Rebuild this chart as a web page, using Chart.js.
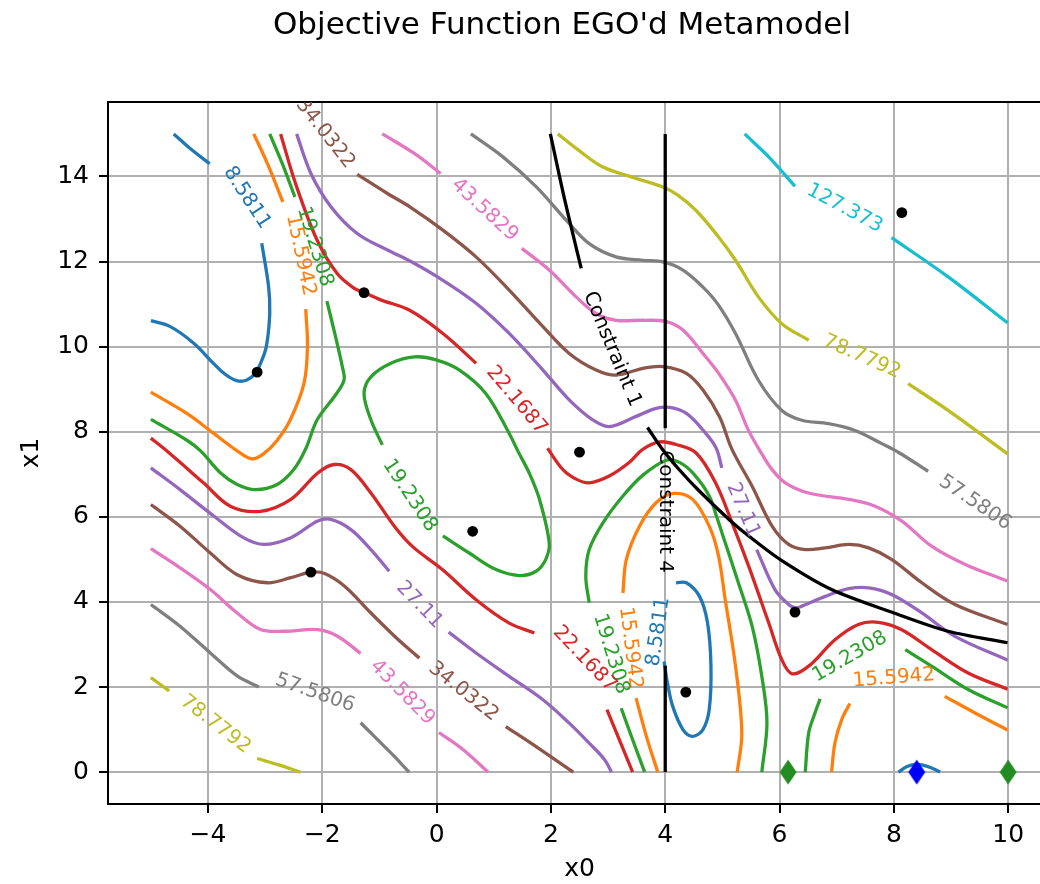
<!DOCTYPE html>
<html>
<head>
<meta charset="utf-8">
<title>Objective Function EGO'd Metamodel</title>
<script src="https://cdn.jsdelivr.net/npm/chart.js@4.4.1/dist/chart.umd.min.js"></script>
<style>
  html, body { margin: 0; padding: 0; overflow: hidden; background: #fff; }
  #wrap { width: 1060px; height: 884px; }
</style>
</head>
<body>
<div id="wrap"><canvas id="metamodel" width="1060" height="884"></canvas></div>
<script>
const xTicks = [-4, -2, 0, 2, 4, 6, 8, 10];
const yTicks = [0, 2, 4, 6, 8, 10, 12, 14];

const levels = [8.5811, 15.5942, 19.2308, 22.1687, 27.11, 34.0322, 43.5829, 57.5806, 78.7792, 127.373];

// each level: list of line pieces, each piece a run of [x0, x1] points
const iso8_5811 = [
  [[-4.6, 15.0], [-4.28, 14.62], [-3.97, 14.3]],
  [[-3.06, 12.43], [-2.94, 11.41], [-2.92, 10.78], [-2.98, 10.0], [-3.08, 9.61], [-3.18, 9.36], [-3.33, 9.21], [-3.5, 9.2], [-3.7, 9.35], [-3.9, 9.6], [-4.25, 10.08], [-4.66, 10.47], [-5.0, 10.61]],
  [[4.19, 4.45], [4.37, 4.45], [4.6, 4.13], [4.74, 3.51], [4.8, 2.49], [4.77, 1.47], [4.66, 1.0], [4.48, 0.84], [4.31, 1.0], [4.13, 1.55], [4.04, 2.09], [3.98, 2.6]],
  [[8.08, 0.0], [8.23, 0.13], [8.4, 0.18], [8.6, 0.13], [8.81, 0.0]]
];
const iso15_5942 = [
  [[-3.2, 15.0], [-2.96, 14.3], [-2.69, 13.4]],
  [[-2.29, 10.88], [-2.26, 10.0], [-2.32, 9.14], [-2.56, 8.28], [-2.8, 7.78], [-3.02, 7.49], [-3.23, 7.36], [-3.49, 7.55], [-3.9, 7.96], [-4.37, 8.43], [-5.0, 8.93]],
  [[3.87, 0.0], [3.67, 0.84], [3.49, 1.74]],
  [[3.26, 4.21], [3.32, 5.0], [3.55, 5.78], [3.84, 6.33], [4.15, 6.55], [4.48, 6.41], [4.77, 5.78], [4.93, 5.1], [5.05, 4.05], [5.23, 2.49], [5.34, 0.92], [5.26, 0.0]],
  [[6.91, 0.0], [6.97, 0.69], [7.09, 1.24], [7.23, 1.61]],
  [[8.89, 1.78], [9.42, 1.39], [9.99, 0.99]]
];
const iso19_2308 = [
  [[-2.92, 15.0], [-2.7, 14.3], [-2.48, 13.52]],
  [[-1.92, 11.07], [-1.78, 10.3], [-1.65, 9.53], [-1.62, 9.22], [-1.76, 8.88], [-2.09, 8.28], [-2.29, 7.6], [-2.5, 7.11], [-2.79, 6.76], [-3.17, 6.64], [-3.49, 6.76], [-3.78, 7.03], [-4.13, 7.55], [-4.37, 7.8], [-5.0, 8.29]],
  [[0.11, 5.55], [0.57, 5.15], [1.04, 4.76], [1.45, 4.62], [1.74, 4.72], [1.91, 5.0], [1.97, 5.39], [1.8, 6.41], [1.62, 7.03], [1.42, 7.55], [1.27, 7.96], [0.86, 8.9], [0.4, 9.45], [-0.01, 9.69], [-0.39, 9.76], [-0.8, 9.61], [-1.15, 9.29], [-1.27, 8.9], [-1.15, 8.28], [-0.95, 7.69]],
  [[3.64, 0.0], [3.43, 0.76], [3.23, 1.5]],
  [[2.67, 3.98], [2.61, 4.6], [2.67, 5.23], [2.91, 5.86], [3.26, 6.49], [3.61, 6.98], [4.02, 7.33], [4.25, 7.28], [4.49, 7.02], [4.77, 6.49], [4.9, 6.0], [5.05, 5.39], [5.28, 4.45], [5.52, 3.43], [5.69, 2.25], [5.78, 1.16], [5.69, 0.0]],
  [[6.45, 0.0], [6.51, 0.92], [6.62, 1.39], [6.71, 1.72]],
  [[8.2, 2.88], [8.66, 2.49], [9.3, 1.94], [9.99, 1.51]]
];
const iso22_1687 = [
  [[-2.73, 15.0], [-2.47, 13.84], [-2.09, 12.5], [-1.74, 11.72], [-1.44, 11.37], [-1.27, 11.27], [-0.98, 11.1], [-0.48, 10.86], [0.11, 10.31], [0.69, 9.61]],
  [[1.94, 7.61], [2.21, 7.11], [2.45, 6.88], [2.67, 6.8], [3.02, 6.96], [3.38, 7.29], [3.6, 7.58], [3.9, 7.76], [4.19, 7.7], [4.54, 7.5], [4.88, 6.8], [5.17, 5.86], [5.46, 4.84], [5.81, 3.51], [6.04, 2.64], [6.22, 2.31], [6.51, 2.49], [6.97, 3.11], [7.38, 3.47], [7.73, 3.52], [8.13, 3.35], [8.66, 2.88], [9.3, 2.33], [9.99, 1.95]],
  [[-5.0, 7.85], [-4.75, 7.58], [-4.08, 6.8], [-3.61, 6.25], [-3.08, 6.13], [-2.55, 6.41], [-2.08, 7.03], [-1.79, 7.23], [-1.5, 7.11], [-1.15, 6.56], [-0.74, 5.78], [-0.42, 5.3], [0.1, 4.76], [0.69, 4.05], [1.27, 3.5], [1.71, 3.27]],
  [[2.98, 1.47], [3.2, 0.75], [3.43, 0.0]]
];
const iso27_11 = [
  [[-2.45, 15.0], [-2.2, 14.07], [-1.85, 13.29], [-1.39, 12.66], [-0.86, 12.27], [-0.45, 12.0], [0.11, 11.56], [0.69, 11.02], [1.27, 10.31], [1.86, 9.45], [2.32, 8.75], [2.73, 8.28], [3.02, 8.12], [3.49, 8.36], [3.84, 8.55], [4.08, 8.57], [4.37, 8.43], [4.66, 8.04], [4.89, 7.62], [4.99, 7.15]],
  [[5.6, 5.23], [5.92, 4.29], [6.16, 3.94], [6.28, 3.86], [6.39, 3.9], [6.8, 4.13], [7.21, 4.31], [7.56, 4.33], [7.97, 4.17], [8.49, 3.74], [9.07, 3.19], [9.99, 2.63]],
  [[-5.0, 7.15], [-4.49, 6.64], [-3.9, 6.02], [-3.38, 5.51], [-3.02, 5.35], [-2.55, 5.51], [-2.08, 5.9], [-1.85, 5.94], [-1.5, 5.7], [-1.15, 5.23], [-0.83, 4.72]],
  [[0.21, 3.29], [0.69, 2.8], [1.27, 2.25], [1.86, 1.7], [2.32, 1.15], [2.67, 0.68], [2.94, 0.29], [3.06, 0.0]]
];
const iso34_0322 = [
  [[-1.39, 14.05], [-0.86, 13.6], [-0.45, 13.27], [0.11, 12.74], [0.69, 12.11], [1.27, 11.33], [1.86, 10.47], [2.32, 9.84], [2.79, 9.45], [3.14, 9.33], [3.61, 9.49], [3.96, 9.53], [4.37, 9.37], [4.66, 8.98], [4.95, 8.35], [5.17, 7.58], [5.52, 6.72], [5.87, 5.78], [6.16, 5.35], [6.45, 5.23], [6.8, 5.27], [7.21, 5.35], [7.56, 5.27], [7.96, 5.0], [8.49, 4.45], [9.07, 3.94], [9.99, 3.47]],
  [[-5.0, 6.29], [-4.49, 5.78], [-3.96, 5.15], [-3.49, 4.64], [-2.96, 4.45], [-2.55, 4.57], [-2.2, 4.7], [-1.96, 4.67], [-1.61, 4.37], [-1.15, 3.74], [-0.74, 3.2], [-0.45, 2.85], [-0.3, 2.68]],
  [[1.21, 1.07], [1.74, 0.6], [2.39, 0.0]]
];
const iso43_5829 = [
  [[-0.95, 15.0], [-0.39, 14.54], [0.07, 14.07]],
  [[1.49, 12.31], [1.97, 11.8], [2.44, 11.17], [2.79, 10.78], [3.14, 10.62], [3.61, 10.62], [4.02, 10.59], [4.31, 10.39], [4.66, 9.84], [4.92, 9.4], [5.23, 8.74], [5.45, 8.05], [5.68, 7.5], [5.87, 7.11], [6.1, 6.8], [6.51, 6.56], [7.21, 6.41], [7.67, 6.25], [8.14, 5.9], [8.66, 5.31], [9.25, 4.88], [9.99, 4.49]],
  [[-5.0, 5.25], [-4.49, 4.8], [-3.96, 4.29], [-3.49, 3.74], [-3.08, 3.35], [-2.67, 3.31], [-2.08, 3.35], [-1.74, 3.2], [-1.33, 2.79]],
  [[0.04, 0.93], [0.46, 0.53], [0.9, 0.0]]
];
const iso57_5806 = [
  [[0.6, 15.0], [1.16, 14.46], [1.74, 13.76], [2.27, 12.97], [2.67, 12.42], [3.14, 12.11], [3.61, 12.03], [3.96, 11.99], [4.31, 11.8], [4.66, 11.4], [4.92, 11.0], [5.23, 10.31], [5.63, 9.21], [6.04, 8.5], [6.39, 8.27], [6.86, 8.19], [7.32, 8.03], [7.79, 7.72], [8.1, 7.5], [8.6, 7.07]],
  [[-5.0, 3.94], [-4.49, 3.43], [-3.96, 2.8], [-3.49, 2.26], [-3.11, 2.0]],
  [[-1.33, 1.16], [-0.8, 0.45], [-0.48, 0.0]]
];
const iso78_7792 = [
  [[2.12, 15.0], [2.5, 14.6], [2.91, 14.22], [3.5, 13.95], [3.96, 13.75], [4.22, 13.56], [4.54, 13.2], [4.92, 12.6], [5.23, 12.03], [5.63, 11.17], [6.04, 10.54], [6.51, 10.15]],
  [[8.25, 9.13], [8.95, 8.5], [9.99, 7.48]],
  [[-5.0, 2.22], [-4.68, 1.91]],
  [[-3.14, 0.32], [-2.79, 0.18], [-2.38, 0.0]]
];
const iso127_373 = [
  [[5.39, 15.0], [5.81, 14.46], [6.27, 13.77]],
  [[7.96, 12.56], [8.95, 11.64], [9.99, 10.56]]
];
const contours = [iso8_5811, iso15_5942, iso19_2308, iso22_1687, iso27_11,
                  iso34_0322, iso43_5829, iso57_5806, iso78_7792, iso127_373];

const constraint1 = [
  [[1.99, 15.0], [2.25, 13.4], [2.53, 11.84]],
  [[3.69, 8.1], [3.96, 7.57], [4.25, 7.1], [4.6, 6.6], [5.13, 5.92], [5.46, 5.55], [6.04, 4.97], [6.91, 4.29], [8.0, 3.74], [8.95, 3.31], [9.99, 3.04]]
];
const constraint4 = [
  [[4.0, 15.0], [4.0, 8.08]],
  [[4.0, 2.5], [4.0, 0.0]]
];

// [level index, x0, x1] of each inline contour label
const contourLabels = [
  [0, -3.32, 13.5], [0, 3.88, 3.3],
  [1, -2.38, 12.15], [1, 3.39, 2.92], [1, 8.0, 2.21],
  [2, -2.13, 12.35], [2, -0.47, 6.5], [2, 3.05, 2.78], [2, 7.23, 2.71],
  [3, 1.4, 8.74], [3, 2.59, 2.66],
  [4, 5.36, 6.16], [4, -0.3, 3.93],
  [5, -1.95, 15.01], [5, 0.47, 1.89],
  [6, 0.84, 13.21], [6, -0.6, 1.87],
  [7, 9.42, 6.33], [7, -2.13, 1.86],
  [8, 7.44, 9.76], [8, -3.87, 1.12],
  [9, 7.14, 13.25]
];
const constraintNames = ['Constraint 1', 'Constraint 4'];
const constraintLabels = [[3.07, 9.94], [4.0, 6.12]];

const samples = [[-3.14, 9.4], [-1.27, 11.27], [2.5, 7.52], [0.63, 5.66],
                 [-2.2, 4.7], [6.27, 3.76], [4.36, 1.88], [8.14, 13.15]];
const infillGreen = [[6.15, 0], [10, 0]];
const infillBlue = [[8.4, 0]];

const palette = ['#1f77b4', '#ff7f0e', '#2ca02c', '#d62728', '#9467bd',
                 '#8c564b', '#e377c2', '#7f7f7f', '#bcbd22', '#17becf'];
const FONT = 'DejaVu Sans';
Chart.defaults.font.family = FONT;

const toXY = pts => pts.map(([x, y]) => ({ x, y }));
const minus = v => (v < 0 ? '\u2212' + Math.abs(v) : String(v));

function thinDiamond(color) {
  const c = document.createElement('canvas');
  c.width = 18; c.height = 26;
  const g = c.getContext('2d');
  g.fillStyle = color;
  g.beginPath();
  g.moveTo(9, 0.5); g.lineTo(17.5, 13); g.lineTo(9, 25.5); g.lineTo(0.5, 13);
  g.closePath(); g.fill();
  return c;
}

const datasets = [];
contours.forEach((pieces, k) => pieces.forEach(p => datasets.push({
  data: toXY(p), showLine: true, borderColor: palette[k], borderWidth: 3.3,
  pointRadius: 0, pointHitRadius: 0, tension: 0.35, borderJoinStyle: 'round', order: 2
})));
[constraint1, constraint4].forEach(pieces => pieces.forEach(p => datasets.push({
  data: toXY(p), showLine: true, borderColor: '#000', borderWidth: 3.3,
  pointRadius: 0, pointHitRadius: 0, tension: 0.3, order: 1
})));
datasets.push({ data: toXY(samples), pointRadius: 5.4, backgroundColor: '#000', borderWidth: 0, order: 0 });
datasets.push({ data: toXY(infillGreen), pointStyle: thinDiamond('#228b22'), pointRadius: 8, order: 0 });
datasets.push({ data: toXY(infillBlue), pointStyle: thinDiamond('#0000ff'), pointRadius: 8, order: 0 });

// angle of an inline label: follow the gap it sits in (nearest line point on each
// side of it), or the line end it sits past
function labelAngle(px, py, pieces, xs, ys) {
  const pts = [];
  pieces.forEach((p, s) => p.forEach(([vx, vy], i) => {
    const x = xs.getPixelForValue(vx), y = ys.getPixelForValue(vy);
    pts.push({ s, i, x, y, d: Math.hypot(x - px, y - py) });
  }));
  pts.sort((a, b) => a.d - b.d);
  const a = pts[0];
  const b = pts.find(p => {
    if (p.d >= 120 || (p.s === a.s && Math.abs(p.i - a.i) <= 2)) return false;
    const cos = ((a.x - px) * (p.x - px) + (a.y - py) * (p.y - py)) / (a.d * p.d);
    return cos < -0.5;
  });
  const dx = b ? b.x - a.x : px - a.x;
  const dy = b ? b.y - a.y : py - a.y;
  let t = Math.atan2(dy, dx);
  if (t > Math.PI / 2) t -= Math.PI;
  if (t < -Math.PI / 2) t += Math.PI;
  return t;
}

const frame = {
  id: 'frame',
  afterDatasetsDraw(chart) {
    const { ctx, chartArea: a } = chart;
    ctx.save();
    ctx.strokeStyle = '#000';
    ctx.lineWidth = 2;
    ctx.beginPath();
    ctx.moveTo(a.left, a.top); ctx.lineTo(a.right, a.top); ctx.lineTo(a.right, a.bottom);
    ctx.stroke();
    ctx.restore();
  },
  afterDraw(chart) {
    const ctx = chart.ctx;
    ctx.save();
    ctx.fillStyle = '#000';
    ctx.font = `31px "${FONT}"`;
    ctx.textAlign = 'center';
    ctx.textBaseline = 'middle';
    ctx.fillText("Objective Function EGO'd Metamodel", 562, 26);
    ctx.restore();
  }
};

const inlineLabels = {
  id: 'inlineLabels',
  afterDatasetsDraw(chart) {
    const { ctx, chartArea: a, scales: { x, y } } = chart;
    ctx.save();
    ctx.beginPath();
    ctx.rect(a.left, a.top, a.right - a.left, a.bottom - a.top);
    ctx.clip();
    ctx.font = `20px "${FONT}"`;
    ctx.textAlign = 'center';
    ctx.textBaseline = 'middle';
    const put = (text, lx, ly, pieces, color) => {
      const px = x.getPixelForValue(lx), py = y.getPixelForValue(ly);
      ctx.save();
      ctx.translate(px, py);
      ctx.rotate(labelAngle(px, py, pieces, x, y));
      ctx.fillStyle = color;
      ctx.fillText(text, 0, 0);
      ctx.restore();
    };
    contourLabels.forEach(([k, lx, ly]) => put(String(levels[k]), lx, ly, contours[k], palette[k]));
    [constraint1, constraint4].forEach((pieces, i) =>
      put(constraintNames[i], constraintLabels[i][0], constraintLabels[i][1], pieces, '#000'));
    ctx.restore();
  }
};

const axisFont = { family: FONT, size: 25 };

new Chart(document.getElementById('metamodel'), {
  type: 'scatter',
  data: { datasets },
  options: {
    responsive: false,
    animation: false,
    events: [],
    layout: { padding: { top: 102, right: 9, bottom: 0, left: 0 } },
    plugins: { legend: { display: false }, tooltip: { enabled: false } },
    scales: {
      x: {
        type: 'linear', min: -5.75, max: 10.75,
        afterFit: s => { s.height = 80; },
        afterBuildTicks: s => { s.ticks = xTicks.map(v => ({ value: v })); },
        grid: { color: '#b0b0b0', lineWidth: 2, tickColor: '#000', tickLength: 9, tickWidth: 2 },
        border: { color: '#000', width: 2 },
        ticks: { color: '#000', font: axisFont, padding: 7, maxRotation: 0, autoSkip: false, callback: v => minus(v) },
        title: { display: true, text: 'x0', color: '#000', font: axisFont, padding: { top: 0, bottom: 0 } }
      },
      y: {
        type: 'linear', min: -0.75, max: 15.75,
        afterFit: s => { s.width = 108; },
        afterBuildTicks: s => { s.ticks = yTicks.map(v => ({ value: v })); },
        grid: { color: '#b0b0b0', lineWidth: 2, tickColor: '#000', tickLength: 9, tickWidth: 2 },
        border: { color: '#000', width: 2 },
        ticks: { color: '#000', font: axisFont, padding: 10, autoSkip: false, callback: v => minus(v) },
        title: { display: true, text: 'x1', color: '#000', font: axisFont, padding: { top: 16, bottom: 0 } }
      }
    }
  },
  plugins: [frame, inlineLabels]
});
</script>
</body>
</html>
